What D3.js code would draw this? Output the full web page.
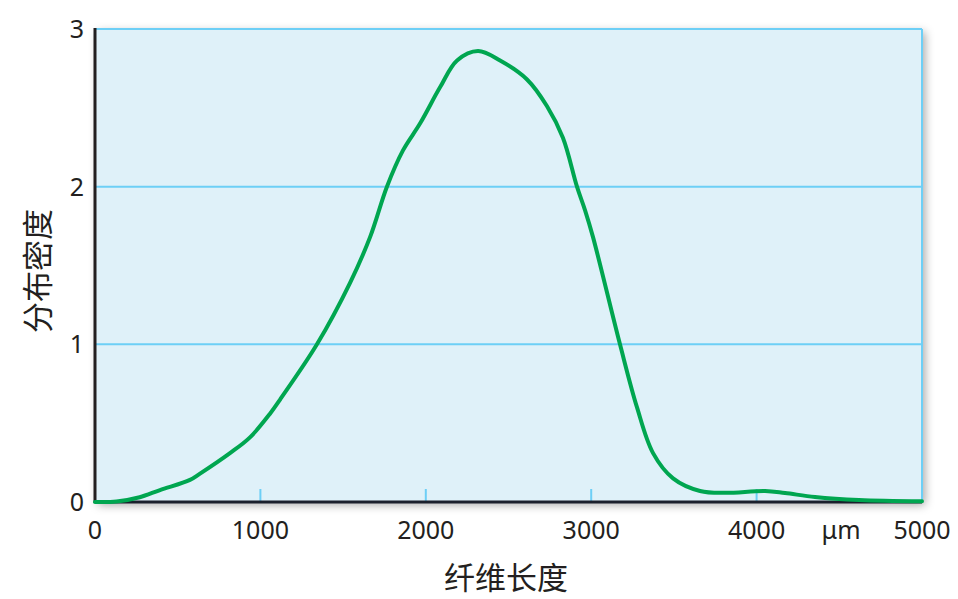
<!DOCTYPE html>
<html><head><meta charset="utf-8">
<script src="https://cdn.jsdelivr.net/npm/d3@7"></script>
<style>html,body{margin:0;padding:0;background:#fff;}</style>
</head><body>
<script>
const lengths = [0,130,270,393,574,635,816,937,1058,1119,1342,1542,1663,1765,1862,1965,2086,2189,2316,2449,2612,2733,2829,2914,2963,3011,3174,3277,3374,3495,3658,3809,4051,4172,4353,4619,5000];
const density = [0,0.003,0.03,0.076,0.14,0.18,0.31,0.41,0.56,0.65,1.0,1.39,1.68,2.0,2.23,2.40,2.63,2.80,2.86,2.80,2.68,2.51,2.31,2.0,1.85,1.68,1.0,0.60,0.31,0.15,0.07,0.058,0.07,0.057,0.032,0.013,0.005];
const xTicks = [0,1000,2000,3000,4000,5000];
const yTicks = [0,1,2,3];
const xTitle = "纤维长度", yTitle = "分布密度", unit = "μm";

const W=958,H=599;
const L=95,R=922,T=29,B=502;
const svg=d3.select("body").append("svg").attr("width",W).attr("height",H);
const defs=svg.append("defs");
const f=defs.append("filter").attr("id","sh").attr("x","-10%").attr("y","-10%").attr("width","120%").attr("height","120%");
f.append("feDropShadow").attr("dx",3).attr("dy",3).attr("stdDeviation",5).attr("flood-color","#000").attr("flood-opacity",0.35);

const x=d3.scaleLinear().domain([0,5000]).range([L,R]);
const y=d3.scaleLinear().domain([0,3]).range([B,T]);

svg.append("rect").attr("x",L).attr("y",T).attr("width",R-L).attr("height",B-T)
  .attr("fill","#dff1f9").attr("filter","url(#sh)");

const gc="#6dcff6";
svg.append("g").selectAll("line").data(yTicks.filter(d=>d>0)).join("line")
  .attr("x1",L).attr("x2",R).attr("y1",d=>y(d)).attr("y2",d=>y(d))
  .attr("stroke",gc).attr("stroke-width",2);
svg.append("line").attr("x1",R).attr("x2",R).attr("y1",T).attr("y2",B).attr("stroke",gc).attr("stroke-width",2);
svg.append("g").selectAll("line").data(xTicks.filter(d=>d>0&&d<5000)).join("line")
  .attr("x1",d=>x(d)).attr("x2",d=>x(d)).attr("y1",B-13).attr("y2",B)
  .attr("stroke",gc).attr("stroke-width",2);
svg.append("line").attr("x1",L).attr("x2",L).attr("y1",T-1).attr("y2",B+1).attr("stroke","#231f20").attr("stroke-width",3);
svg.append("line").attr("x1",L).attr("x2",R).attr("y1",B).attr("y2",B).attr("stroke","#1a1f2c").attr("stroke-width",3);

const data=lengths.map((v,i)=>[v,density[i]]);
svg.append("path").datum(data)
  .attr("d",d3.line().x(d=>x(d[0])).y(d=>y(d[1])).curve(d3.curveCatmullRom.alpha(0.5)))
  .attr("fill","none").attr("stroke","#00a650").attr("stroke-width",4).attr("stroke-linejoin","round").attr("stroke-linecap","round");

const font="'Noto Sans','Open Sans',sans-serif";
svg.append("g").selectAll("text").data(xTicks).join("text")
  .attr("x",d=>x(d)).attr("y",539).attr("text-anchor","middle")
  .attr("font-family",font).attr("font-size",25).attr("fill","#231f20").text(d=>d);
svg.append("text").attr("x",841).attr("y",539).attr("text-anchor","middle")
  .attr("font-family",font).attr("font-size",25).attr("fill","#231f20").text(unit);
svg.append("g").selectAll("text").data(yTicks).join("text")
  .attr("x",84).attr("y",d=>y(d)+9).attr("text-anchor","end")
  .attr("font-family",font).attr("font-size",25).attr("fill","#231f20").text(d=>d);

svg.append("text").attr("x",506).attr("y",589).attr("text-anchor","middle")
  .attr("font-family","'Noto Sans CJK SC',sans-serif").attr("font-size",31).attr("fill","#231f20").text(xTitle);
svg.append("text").attr("transform","translate(49,271) rotate(-90)").attr("text-anchor","middle")
  .attr("font-family","'Noto Sans CJK SC',sans-serif").attr("font-size",31).attr("fill","#231f20").text(yTitle);
</script>
</body></html>
